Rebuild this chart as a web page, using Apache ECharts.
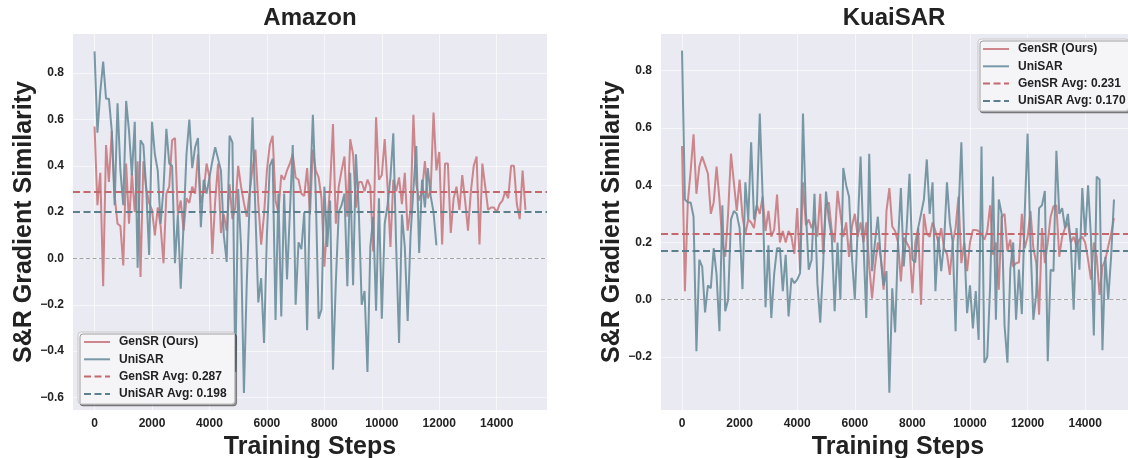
<!DOCTYPE html>
<html><head><meta charset="utf-8">
<script src="https://cdn.jsdelivr.net/npm/echarts@6/dist/echarts.min.js"></script>
<style>html,body{margin:0;padding:0;background:#fff}#c{width:1128px;height:458px}</style>
</head><body><div id="c"></div>
<script>
const STEP = 100;
const xTicks = [0, 2000, 4000, 6000, 8000, 10000, 12000, 14000];
const amazonYTicks = [-0.6, -0.4, -0.2, 0, 0.2, 0.4, 0.6, 0.8];
const kuaiYTicks = [-0.2, 0, 0.2, 0.4, 0.6, 0.8];
const titles = ['Amazon', 'KuaiSAR'];
const amazonAvg = [0.287, 0.198];
const kuaiAvg = [0.231, 0.170];

const amazonGenSR = [0.57,0.23,0.37,-0.12,0.49,0.33,0.55,0.27,0.15,0.14,
-0.03,0.41,0.15,0.37,0.20,0.42,-0.08,0.42,0.30,0.24,
0.21,0.10,0.22,0.14,-0.02,0.28,0.31,0.51,0.52,0.19,
0.25,0.12,0.26,0.24,0.31,0.28,0.45,0.24,0.29,0.41,
0.35,0.02,0.25,0.41,0.11,0.19,0.12,0.32,0.17,0.22,
0.40,0.31,0.24,0.18,0.29,0.39,0.47,0.24,0.06,0.19,
0.38,0.49,0.53,0.25,0.20,0.36,0.34,0.38,0.41,0.45,
0.35,0.34,0.28,0.27,0.39,0.19,0.47,0.38,0.35,0.26,
-0.035,0.15,0.31,0.58,0.15,0.31,0.38,0.44,0.18,0.515,
0.45,0.22,0.33,0.33,0.29,0.34,0.31,0.03,0.61,0.34,
0.36,0.515,0.31,0.05,0.34,0.29,0.35,0.235,0.37,0.12,
0.21,0.62,0.32,0.25,0.29,0.42,0.26,0.29,0.63,0.38,
0.46,0.06,0.41,0.41,0.11,0.26,0.31,0.21,0.36,0.25,
0.12,0.29,0.40,0.44,0.06,0.41,0.31,0.21,0.22,0.22,
0.20,0.235,0.25,0.29,0.26,0.40,0.40,0.235,0.17,0.38,
0.21];

const amazonUniSAR = [0.894,0.543,0.72,0.85,0.69,0.69,0.55,0.23,0.67,0.38,
0.23,0.68,0.55,0.36,0.59,-0.04,0.51,0.49,0.30,0.015,
0.59,0.45,0.38,0.15,0.30,0.56,0.41,0.40,-0.02,0.19,
-0.13,0.15,0.45,0.60,0.39,0.48,0.52,0.135,0.34,0.28,
0.35,0.42,0.48,0.43,0.38,0.10,-0.015,0.53,0.50,-0.49,
0.30,0.05,-0.58,-0.10,0.25,0.61,0.20,-0.19,-0.085,-0.365,
0.10,0.40,0.43,-0.265,0.28,-0.25,0.28,-0.09,0.20,0.49,
-0.20,0.07,0.04,0.20,-0.31,0.28,0.62,0.28,-0.26,-0.22,
0.31,0.05,0.25,-0.48,-0.10,0.20,0.23,0.28,-0.12,0.37,
-0.115,0.45,0.20,-0.20,-0.14,-0.49,0.05,0.18,-0.225,0.26,
-0.26,0.15,0.23,0.35,0.54,0.05,-0.365,0.19,0.05,-0.27,
0.10,0.30,0.485,0.024,0.34,0.22,0.39,0.27,0.20,0.057];

const kuaiGenSR = [0.537,0.03,0.34,0.45,0.578,0.37,0.465,0.50,0.47,0.44,
0.30,0.34,0.465,0.35,0.20,0.15,0.30,0.51,0.41,0.31,
0.42,0.29,0.23,0.28,0.27,0.25,0.33,0.30,0.36,0.24,
0.31,0.22,0.245,0.367,0.20,0.24,0.20,0.24,0.22,0.16,
0.32,0.105,0.41,0.26,0.28,0.25,0.28,0.22,0.37,0.16,
0.33,0.34,0.24,0.20,0.38,0.30,0.22,0.27,0.15,0.255,
0.30,0.22,0.27,0.20,0.27,0.12,0.005,0.116,0.20,0.15,
0.035,0.31,0.39,0.256,0.24,0.20,0.064,0.216,0.20,0.18,
0.023,0.20,0.25,-0.017,0.30,0.23,0.22,0.27,0.24,0.20,
0.25,0.18,0.16,0.087,0.20,0.25,0.36,0.128,0.20,0.10,
0.20,0.244,0.244,0.24,0.23,0.21,0.24,0.33,0.157,0.20,
0.035,0.29,0.30,0.17,0.21,0.116,0.128,0.13,0.30,0.18,
0.22,0.31,0.18,0.13,-0.052,0.25,0.128,0.20,0.29,0.326,
0.33,0.15,0.22,0.25,0.27,0.20,0.22,0.186,0.21,0.22,
0.20,0.14,0.07,0.20,0.15,0.017,0.116,0.14,0.186,0.23,
0.285];

const kuaiUniSAR = [0.87,0.35,0.34,0.34,0.29,-0.18,0.14,0.116,-0.044,0.05,
0.04,0.18,0.087,-0.11,0.33,-0.04,0.00,0.28,0.31,0.30,
0.25,0.037,0.41,0.28,0.55,0.28,0.33,0.65,0.36,-0.026,
0.19,-0.064,0.09,0.18,0.18,0.03,0.157,-0.058,0.076,0.058,
0.07,0.093,0.65,0.31,0.105,0.14,0.37,0.058,-0.08,0.12,
0.378,0.28,0.22,-0.04,0.20,0.00,0.46,0.40,0.36,0.15,
0.00,0.25,0.50,0.20,-0.064,0.51,0.10,0.20,0.29,0.15,
0.05,0.10,-0.325,0.04,-0.114,0.20,0.39,0.116,0.25,0.44,
0.14,0.13,0.25,0.30,0.35,0.49,0.30,0.41,0.03,0.22,
0.10,0.20,0.41,0.27,0.20,-0.11,0.30,0.55,0.20,-0.047,
0.05,-0.10,0.03,-0.14,0.535,-0.22,-0.20,0.05,0.43,-0.07,
0.35,0.30,-0.09,-0.22,0.105,0.20,-0.07,0.105,-0.05,0.30,
0.58,0.20,-0.07,0.02,0.32,0.33,0.38,-0.215,0.105,0.10,
0.52,0.30,0.32,0.25,0.30,0.20,-0.035,0.25,0.105,0.39,
0.22,0.40,0.22,-0.125,0.43,0.42,-0.176,0.15,0.00,0.15,
0.35];

const FONT = "'Liberation Sans', Arial, Helvetica, sans-serif";
const RED = '#C97A80', BLUE = '#6A8E9B';
const RED_D = '#C4686E', BLUE_D = '#5C808D';
const TXT = '#222222';

function pts(arr) { return arr.map((v, i) => [i * STEP, v]); }
function fmtY(v) { return (v < 0 ? '\u2212' : '') + Math.abs(v).toFixed(1); }

function xAxisCfg(idx, min, max) {
  return {
    type: 'value', gridIndex: idx, min: min, max: max,
    axisLine: { show: false },
    axisTick: { show: false, customValues: xTicks },
    axisLabel: { customValues: xTicks, formatter: v => String(v), fontSize: 12, fontWeight: 'bold', color: TXT, fontFamily: FONT, margin: 8 },
    splitLine: { show: true, lineStyle: { color: 'rgba(255,255,255,0.6)', width: 1 } },
    name: 'Training Steps', nameLocation: 'middle', nameGap: 20,
    nameTextStyle: { fontSize: 25, fontWeight: 'bold', color: TXT, fontFamily: FONT }
  };
}
function yAxisCfg(idx, min, max, ticks) {
  return {
    type: 'value', gridIndex: idx, min: min, max: max,
    axisLine: { show: false },
    axisTick: { show: false, customValues: ticks },
    axisLabel: { customValues: ticks, formatter: fmtY, fontSize: 12, fontWeight: 'bold', color: TXT, fontFamily: FONT, margin: 9 },
    splitLine: { show: true, lineStyle: { color: 'rgba(255,255,255,0.6)', width: 1 } },
    name: 'S&R Gradient Similarity', nameLocation: 'middle', nameGap: 35,
    nameTextStyle: { fontSize: 25, fontWeight: 'bold', color: TXT, fontFamily: FONT }
  };
}
function dataSeries(name, arr, idx, color, zeroLine) {
  const s = {
    name: name, type: 'line', xAxisIndex: idx, yAxisIndex: idx, data: pts(arr),
    symbol: 'none', showSymbol: false,
    lineStyle: { color: color, width: 2, opacity: 0.9 }, itemStyle: { color: color }
  };
  if (zeroLine) {
    s.markLine = { silent: true, symbol: 'none', label: { show: false },
      lineStyle: { color: '#9a9a9a', type: [4, 2.5], width: 1.2, opacity: 0.9 },
      data: [{ yAxis: 0 }] };
  }
  return s;
}
function avgSeries(name, val, idx, color) {
  return {
    name: name, type: 'line', xAxisIndex: idx, yAxisIndex: idx, data: [],
    symbol: 'none',
    lineStyle: { color: color, width: 1.8, type: [7, 3.5] }, itemStyle: { color: color },
    markLine: { silent: true, symbol: 'none', label: { show: false },
      lineStyle: { color: color, width: 1.8, type: [7, 3.5] },
      data: [{ yAxis: val }] }
  };
}
function legendCfg(names, left, top, pad) {
  return {
    data: names, orient: 'vertical', left: left, top: top,
    itemWidth: 26, itemHeight: 12, itemGap: 5.3, padding: pad,
    itemStyle: { opacity: 0, borderWidth: 0 },
    backgroundColor: '#F5F5F8', borderColor: '#C8C8C8', borderWidth: 1, borderRadius: 3,
    shadowColor: 'rgba(0,0,0,0.35)', shadowOffsetX: 2, shadowOffsetY: 2, shadowBlur: 0,
    selectedMode: false,
    textStyle: { fontSize: 12, fontWeight: 'bold', color: TXT, fontFamily: FONT, padding: [0, 0, 0, 4] }
  };
}

const aNames = ['GenSR (Ours)', 'UniSAR', 'GenSR Avg: ' + amazonAvg[0].toFixed(3), 'UniSAR Avg: ' + amazonAvg[1].toFixed(3)];
const kNames = ['GenSR (Ours)', 'UniSAR', 'GenSR Avg: ' + kuaiAvg[0].toFixed(3), 'UniSAR Avg: ' + kuaiAvg[1].toFixed(3)];

const chart = echarts.init(document.getElementById('c'), null, { renderer: 'canvas' });
chart.setOption({
  animation: false,
  backgroundColor: '#ffffff',
  textStyle: { fontFamily: FONT },
  grid: [
    { left: 73, top: 34, width: 474, height: 376, show: true, backgroundColor: '#EAEAF2', borderWidth: 0, containLabel: false, outerBoundsMode: 'none' },
    { left: 661, top: 34, width: 474, height: 376, show: true, backgroundColor: '#EAEAF2', borderWidth: 0, containLabel: false, outerBoundsMode: 'none' }
  ],
  xAxis: [xAxisCfg(0, -750, 15750), xAxisCfg(1, -730, 15730)],
  yAxis: [yAxisCfg(0, -0.654, 0.969, amazonYTicks), yAxisCfg(1, -0.385, 0.928, kuaiYTicks)],
  legend: [legendCfg(aNames, 78, 332, [4, 8, 4, 5]), legendCfg(kNames, 978, 39, [4, 3, 4, 4])],
  graphic: [
    { type: 'text', x: 310, y: 18, style: { text: titles[0], textAlign: 'center', textVerticalAlign: 'middle', font: 'bold 24px ' + FONT, fill: TXT } },
    { type: 'text', x: 894, y: 18, style: { text: titles[1], textAlign: 'center', textVerticalAlign: 'middle', font: 'bold 24px ' + FONT, fill: TXT } }
  ],
  series: [
    dataSeries(aNames[0], amazonGenSR, 0, RED, true),
    dataSeries(aNames[1], amazonUniSAR, 0, BLUE, false),
    avgSeries(aNames[2], amazonAvg[0], 0, RED_D),
    avgSeries(aNames[3], amazonAvg[1], 0, BLUE_D),
    dataSeries(kNames[0], kuaiGenSR, 1, RED, true),
    dataSeries(kNames[1], kuaiUniSAR, 1, BLUE, false),
    avgSeries(kNames[2], kuaiAvg[0], 1, RED_D),
    avgSeries(kNames[3], kuaiAvg[1], 1, BLUE_D)
  ]
});
</script>
</body></html>
